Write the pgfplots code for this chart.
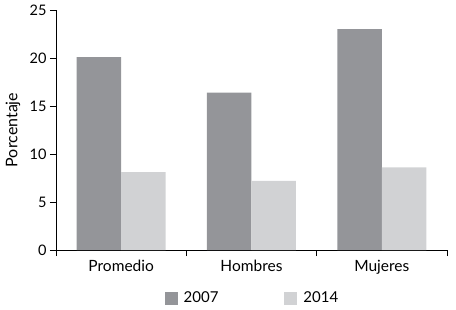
\documentclass[border=0pt]{standalone}
\usepackage{fontspec}
\setmainfont{Lato}
\usepackage{pgfplots}
\pgfplotsset{compat=1.18}
\definecolor{cdark}{RGB}{148,149,153}
\definecolor{clight}{RGB}{209,210,212}
\begin{document}
\begin{tikzpicture}[x=1pt,y=1pt]
\path[use as bounding box] (-56,-59) rectangle (400,250);
\begin{axis}[
  at={(0,0)}, anchor=south west,
  scale only axis,
  width=391pt, height=240pt,
  xmin=-0.5, xmax=2.5,
  ymin=0, ymax=25,
  ytick={0,5,10,15,20,25},
  axis x line*=bottom, axis y line*=left,
  axis line style={line width=0.9pt, -},
  tick style={line width=0.9pt, color=black},
  tick align=outside,
  major tick length=6pt,
  y tick label style={font=\fontsize{14.5}{15}\selectfont},
  /pgf/number format/assume math mode=true,
  xtick={0,1,2},
  xticklabels={Promedio,Hombres,Mujeres},
  x tick style={draw=none},
  x tick label style={font=\fontsize{15.5}{16}\selectfont, yshift=-1pt},
  extra x ticks={-0.5,0.5,1.5,2.5},
  extra x tick labels={},
  extra x tick style={x tick style={draw=black, line width=0.9pt}, major tick length=6pt},
  ylabel={Porcentaje},
  ylabel style={font=\fontsize{16}{16}\selectfont, at={(axis description cs:-0.11,0.5)}, anchor=center},
  legend columns=2,
  legend style={draw=none, at={(0.5,0)}, anchor=center, yshift=-48pt, xshift=3pt,
    font=\fontsize{15}{16}\selectfont,
    /tikz/every even column/.append style={column sep=60pt},
    nodes={inner xsep=6pt}},
  legend image code/.code={\fill[#1] (0pt,-6.5pt) rectangle (13pt,6.5pt);},
]
\addplot[ybar, bar width=44.5pt, bar shift=-22.25pt, fill=cdark, draw=none]
  coordinates {(0,20.1) (1,16.4) (2,23.0)};
\addlegendentry{2007}
\addplot[ybar, bar width=44.5pt, bar shift=22.25pt, fill=clight, draw=none]
  coordinates {(0,8.1) (1,7.2) (2,8.6)};
\addlegendentry{2014}
\end{axis}
\end{tikzpicture}
\end{document}
